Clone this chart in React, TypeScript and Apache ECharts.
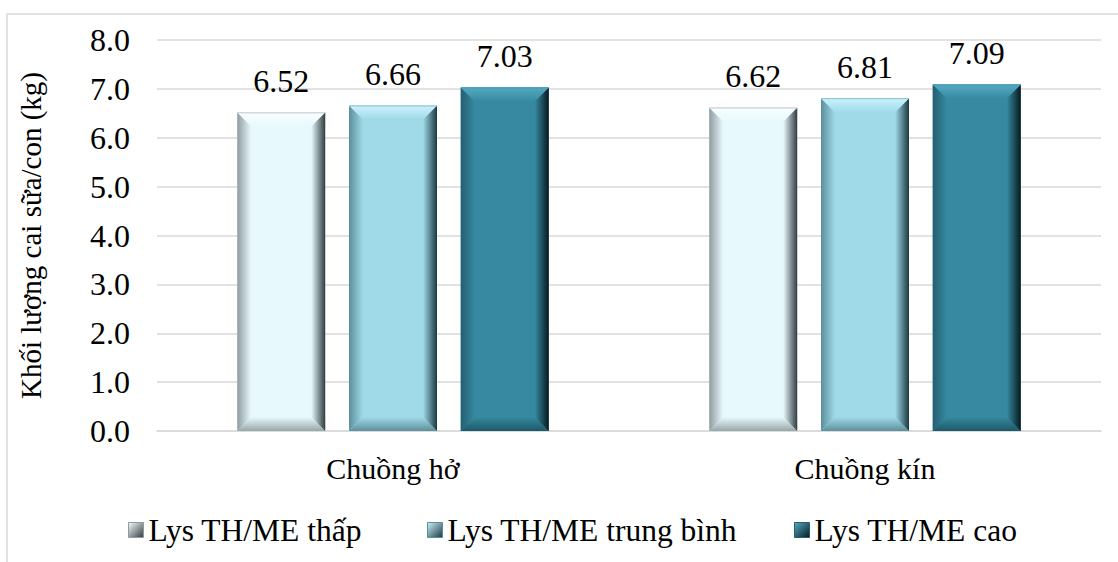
import React, { useEffect, useRef } from "react";
import * as echarts from "echarts";

const categories = ["Chuồng hở", "Chuồng kín"];
const seriesNames = ["Lys TH/ME thấp", "Lys TH/ME trung bình", "Lys TH/ME cao"];
const lowValues = [6.52, 6.62];
const midValues = [6.66, 6.81];
const highValues = [7.03, 7.09];
const yMin = 0;
const yMax = 8;
const yInterval = 1;
const yTitle = "Khối lượng cai sữa/con (kg)";

const allValues = [lowValues, midValues, highValues];

const FONT = "Liberation Serif";
const BAR_W = 88;
const GAP_RATIO = 0.27;
const BEVEL = 14;

const palette = [
  { base: "#E8F9FD", top: "#FAFEFF", topEdge: "#B9C6C9", left: "#8E9C9F", right: "#2F3C40", bottom: "#97A6A9" },
  { base: "#A0DAE9", top: "#CBF3FC", topEdge: "#86BFCD", left: "#5B8E9A", right: "#1A3840", bottom: "#5E8F9B" },
  { base: "#3689A0", top: "#55ABC3", topEdge: "#3E97AF", left: "#245F70", right: "#071A20", bottom: "#1E5868" },
];

const legendLefts = [128, 427, 794];

function lg(x: number, y: number, x2: number, y2: number, c1: string, c2: string) {
  return new echarts.graphic.LinearGradient(x, y, x2, y2, [
    { offset: 0, color: c1 },
    { offset: 1, color: c2 },
  ]);
}

export default function App() {
  const ref = useRef<HTMLDivElement>(null);

  useEffect(() => {
    if (!ref.current) return;
    const chart = echarts.init(ref.current, null, { renderer: "svg" });

    const bevelData: number[][] = [];
    allValues.forEach((vals, s) => vals.forEach((v, c) => bevelData.push([c, v, s])));

    const barSeries = allValues.map((vals, s) => ({
      type: "bar",
      name: seriesNames[s],
      data: vals,
      barWidth: BAR_W,
      barGap: `${GAP_RATIO * 100}%`,
      itemStyle: { color: palette[s].base },
      z: 2,
      label: {
        show: true,
        position: "top",
        distance: 15,
        formatter: (p: any) => p.value.toFixed(2),
        fontFamily: FONT,
        fontSize: 32,
        color: "#000",
      },
    }));

    // beveled edges drawn over each bar
    const bevelSeries = {
      type: "custom",
      name: "bevel",
      data: bevelData,
      encode: { x: 0, y: 1 },
      z: 3,
      silent: true,
      renderItem: (params: any, api: any) => {
        const cat = api.value(0);
        const val = api.value(1);
        const s = api.value(2);
        const p = palette[s];
        const topPt = api.coord([cat, val]);
        const basePt = api.coord([cat, 0]);
        const step = BAR_W * (1 + GAP_RATIO);
        const cx = topPt[0] + (s - 1) * step;
        const x0 = cx - BAR_W / 2;
        const x1 = cx + BAR_W / 2;
        const y0 = topPt[1];
        const y1 = basePt[1];
        const b = BEVEL;
        return {
          type: "group",
          children: [
            {
              type: "polygon",
              shape: { points: [[x0, y1], [x1, y1], [x1 - b, y1 - b], [x0 + b, y1 - b]] },
              style: { fill: lg(0, 1, 0, 0, p.bottom, p.base) },
            },
            {
              type: "polygon",
              shape: { points: [[x0, y0], [x0 + b, y0 + b], [x0 + b, y1 - b], [x0, y1]] },
              style: { fill: lg(0, 0, 1, 0, p.left, p.base) },
            },
            {
              type: "polygon",
              shape: { points: [[x1, y0], [x1, y1], [x1 - b, y1 - b], [x1 - b, y0 + b]] },
              style: { fill: lg(0, 0, 1, 0, p.base, p.right) },
            },
            {
              type: "polygon",
              shape: { points: [[x0, y0], [x1, y0], [x1 - b, y0 + b], [x0 + b, y0 + b]] },
              style: { fill: lg(0, 0, 0, 1, p.top, p.base) },
            },
            {
              type: "line",
              shape: { x1: x0, y1: y0 + 0.5, x2: x1, y2: y0 + 0.5 },
              style: { stroke: p.topEdge, lineWidth: 1 },
            },
          ],
        };
      },
    };

    const legends = seriesNames.map((name, s) => ({
      data: [
        {
          name,
          itemStyle: {
            color: lg(0, 0, 1, 1, palette[s].top, palette[s].right),
            borderColor: palette[s].left,
            borderWidth: 1,
          },
        },
      ],
      left: legendLefts[s],
      top: 514,
      padding: 0,
      itemWidth: 15,
      itemHeight: 15,
      icon: "rect",
      textStyle: { fontFamily: FONT, fontSize: 31.5, color: "#000" },
    }));

    chart.setOption({
      animation: false,
      backgroundColor: "#fff",
      textStyle: { fontFamily: FONT },
      graphic: [
        {
          type: "rect",
          shape: { x: 7, y: 14, width: 1200, height: 600 },
          style: { fill: "none", stroke: "#D9D9D9", lineWidth: 1.5 },
          silent: true,
        },
      ],
      grid: { left: 157, right: 17, top: 40, bottom: 131 },
      legend: legends,
      xAxis: {
        type: "category",
        data: categories,
        axisLine: { show: true, lineStyle: { color: "#D9D9D9", width: 1.5 } },
        axisTick: { show: false },
        axisLabel: { fontFamily: FONT, fontSize: 30, color: "#000", margin: 22 },
      },
      yAxis: {
        type: "value",
        min: yMin,
        max: yMax,
        interval: yInterval,
        name: yTitle,
        nameLocation: "middle",
        nameRotate: 90,
        nameGap: 112,
        nameTextStyle: { fontFamily: FONT, fontSize: 29, color: "#000" },
        axisLine: { show: false },
        axisTick: { show: false },
        splitLine: { lineStyle: { color: "#D9D9D9", width: 1.5 } },
        axisLabel: {
          fontFamily: FONT,
          fontSize: 32,
          color: "#000",
          margin: 27,
          formatter: (v: number) => v.toFixed(1),
        },
      },
      series: [...barSeries, bevelSeries],
    });

    return () => chart.dispose();
  }, []);

  return (
    <div
      ref={ref}
      style={{ position: "fixed", left: 0, top: 0, width: 1118, height: 562 }}
    />
  );
}
